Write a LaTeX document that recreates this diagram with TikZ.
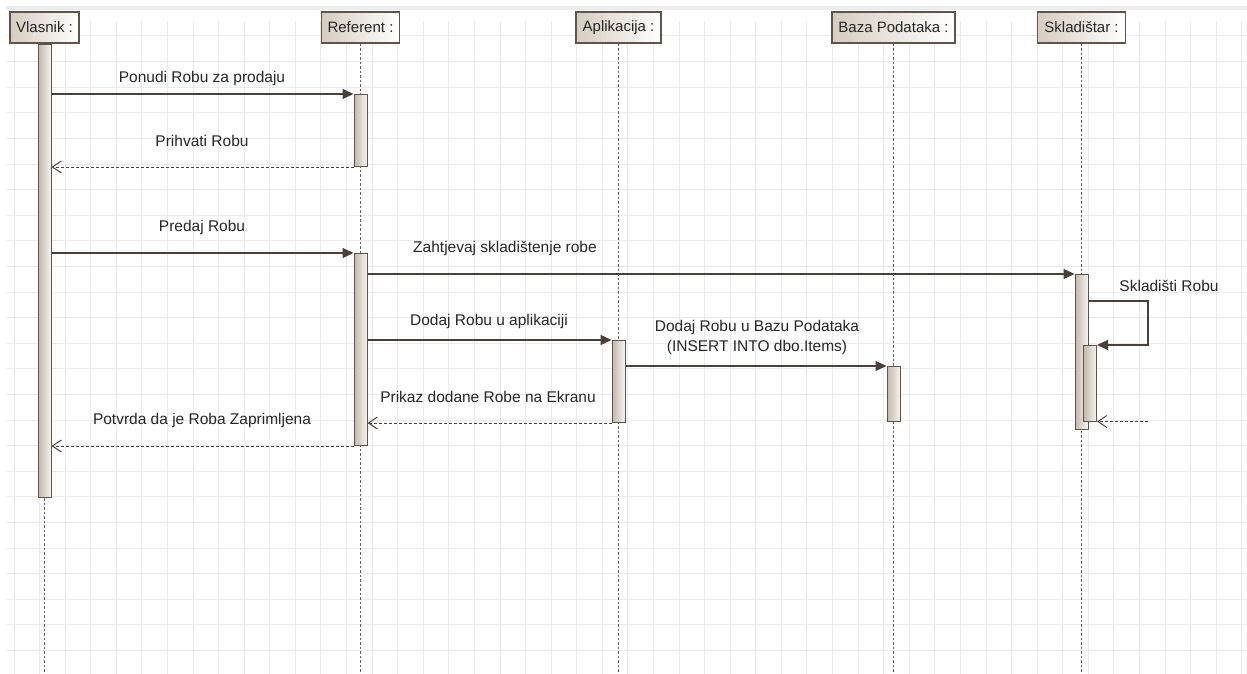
\documentclass[tikz,border=0pt]{standalone}
\usepackage{fontspec}
\setmainfont{Liberation Sans}
\usetikzlibrary{arrows.meta}
\definecolor{gridc}{HTML}{EBEBEB}
\definecolor{bandc}{HTML}{EDEDED}
\definecolor{hdrl}{HTML}{D6CCBF}
\definecolor{edgec}{HTML}{5E544C}
\definecolor{barl}{HTML}{C2B7AB}
\definecolor{barr}{HTML}{F6F4F1}
\definecolor{lifec}{HTML}{6A6058}
\definecolor{msgc}{HTML}{4B4039}
\definecolor{txtc}{HTML}{262626}
\tikzset{
  hdr/.style={draw=edgec, line width=1.3pt, left color=hdrl, right color=white,
    minimum height=31pt, inner sep=0pt, text=txtc,
    font=\fontsize{15}{17}\selectfont},
  actbar/.style={draw=edgec, line width=1pt, left color=barl, right color=barr,
    minimum width=13pt, inner sep=0pt, anchor=north},
  lifeln/.style={draw=lifec, line width=0.9pt, dash pattern=on 2.5pt off 2pt},
  msg/.style={draw=msgc, line width=1.2pt, -{Triangle[length=11pt,width=10pt]}},
  ret/.style={draw=msgc, line width=1pt, dash pattern=on 3pt off 2pt,
    -{Straight Barb[length=9pt,width=12pt,line width=1pt]}},
  lbl/.style={text=txtc, inner sep=0pt, font=\fontsize{15.5}{20}\selectfont, align=center},
}
\begin{document}
\begin{tikzpicture}[x=1pt,y=-1pt]
\useasboundingbox (0,0) rectangle (1247,674);
\fill[white] (0,0) rectangle (1247,674);
% top band
\fill[bandc] (6,6) rectangle (1247,10);
% grid
\foreach \k in {0,...,48} {
  \draw[gridc, line width=1pt] ({14+25.58*\k},21) -- ({14+25.58*\k},674);
}
\foreach \k in {0,...,24} {
  \draw[gridc, line width=1pt] (6,{36+25.6*\k}) -- (1247,{36+25.6*\k});
}
% headers
\node[hdr, minimum width=69pt] (vl) at (44.5,27.5) {Vlasnik :};
\node[hdr, minimum width=78pt] (rf) at (360.5,27.5) {Referent :};
\node[hdr, minimum width=85pt] (ap) at (618.5,27.5) {Aplikacija :};
\node[hdr, minimum width=123pt] (bz) at (893.5,27.5) {Baza Podataka :};
\node[hdr, minimum width=88pt] (sk) at (1081.5,27.5) {Skladištar :};
% lifeline ends
\coordinate (vlE) at (44.5,674);
\coordinate (rfE) at (360.5,674);
\coordinate (apE) at (618.5,674);
\coordinate (bzE) at (893.5,674);
\coordinate (skE) at (1081.5,674);
\draw[lifeln] (vl.south) -- (vlE);
\draw[lifeln] (rf.south) -- (rfE);
\draw[lifeln] (ap.south) -- (apE);
\draw[lifeln] (bz.south) -- (bzE);
\draw[lifeln] (sk.south) -- (skE);
% activation bars
\node[actbar, minimum height=453pt] (v1) at (44.5,44) {};
\node[actbar, minimum height=72pt] (r1) at (360.5,94) {};
\node[actbar, minimum height=192pt] (r2) at (360.5,253) {};
\node[actbar, minimum height=82pt] (a1) at (618.5,340) {};
\node[actbar, minimum height=55pt] (b1) at (893.5,366) {};
\node[actbar, minimum height=155pt] (s1) at (1081.5,274) {};
\node[actbar, minimum height=76pt] (s2) at (1090,345) {};
% messages
\draw[msg] (v1.east |- r1.north) -- (r1.north west);
\draw[ret] (r1.south west) -- (v1.east |- r1.south);
\draw[msg] (v1.east |- r2.north) -- (r2.north west);
\draw[msg] (r2.east |- s1.north) -- (s1.north west);
\draw[msg] (r2.east |- a1.north) -- (a1.north west);
\draw[msg] (a1.east |- b1.north) -- (b1.north west);
\coordinate (c1) at (1148,301);
\draw[msg] (s1.east |- c1) -- (c1) |- (s2.north east);
\coordinate (c2) at (1148,421.5);
\draw[ret] (c2) -- (s2.east |- c2);
\draw[ret] (a1.south west) -- (r2.east |- a1.south);
\draw[ret] (r2.south west) -- (v1.east |- r2.south);
% labels
\node[lbl] (l1) at (202,78) {Ponudi Robu za prodaju};
\node[lbl] (l2) at (202,141) {Prihvati Robu};
\node[lbl] (l3) at (202,227) {Predaj Robu};
\node[lbl] (l4) at (505,248) {Zahtjevaj skladištenje robe};
\node[lbl] (l5) at (489,321) {Dodaj Robu u aplikaciji};
\node[lbl] (l6) at (757,337.5) {Dodaj Robu u Bazu Podataka\\(INSERT INTO dbo.Items)};
\node[lbl] (l7) at (1169,286) {Skladišti Robu};
\node[lbl] (l8) at (488,397) {Prikaz dodane Robe na Ekranu};
\node[lbl] (l9) at (202,420) {Potvrda da je Roba Zaprimljena};
\end{tikzpicture}
\end{document}
